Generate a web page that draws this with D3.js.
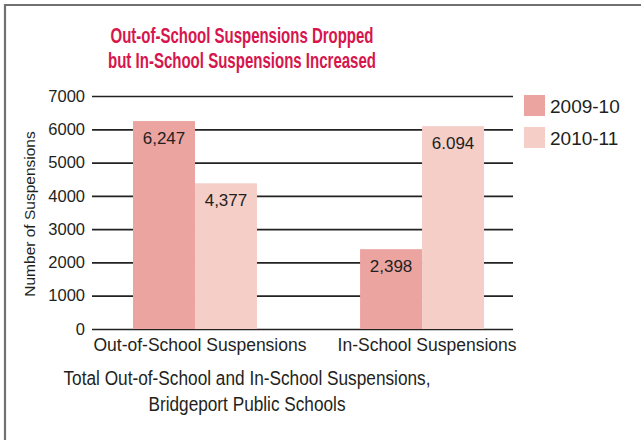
<!DOCTYPE html>
<html>
<head>
<meta charset="utf-8">
<script src="https://cdn.jsdelivr.net/npm/d3@7.9.0/dist/d3.min.js"></script>
<style>
  body { margin: 0; background: #fff; }
  svg text { font-family: "Liberation Sans", Arial, Helvetica, sans-serif; }
</style>
</head>
<body>
<svg id="chart" width="641" height="440"></svg>
<script>
const categories = ['Out-of-School Suspensions', 'In-School Suspensions'];
const years = ['2009-10', '2010-11'];
const values2009 = [6247, 2398];
const values2010 = [4377, 6094];
const valueLabels2009 = ['6,247', '2,398'];
const valueLabels2010 = ['4,377', '6.094'];
const yTicks = [0, 1000, 2000, 3000, 4000, 5000, 6000, 7000];

const colors = d3.scaleOrdinal().domain(years).range(['#eca4a1', '#f6cec8']);

const svg = d3.select('#chart');

// frame (top + left only)
svg.append('line').attr('x1', 5).attr('x2', 641).attr('y1', 5).attr('y2', 5)
  .attr('stroke', '#717171').attr('stroke-width', 2.2);
svg.append('line').attr('x1', 5).attr('x2', 5).attr('y1', 4).attr('y2', 440)
  .attr('stroke', '#717171').attr('stroke-width', 2.2);

// title
const titleLines = ['Out-of-School Suspensions Dropped', 'but In-School Suspensions Increased'];
const titleWidths = [263, 268];
titleLines.forEach((t, i) => {
  svg.append('text')
    .attr('x', 242).attr('y', 43 + i * 25)
    .attr('text-anchor', 'middle')
    .attr('font-size', 21.5).attr('font-weight', 'bold')
    .attr('fill', '#d6164d')
    .attr('textLength', titleWidths[i]).attr('lengthAdjust', 'spacingAndGlyphs')
    .text(t);
});

const y = d3.scaleLinear().domain([0, 7000]).range([329, 96]);
const x0 = d3.scaleBand().domain(categories).range([92, 513])
  .paddingInner(0.454).paddingOuter(0.154).align(0.586);
const x1 = d3.scaleBand().domain(years).range([0, x0.bandwidth()]);

// grid lines
const yAxis = d3.axisLeft(y).tickValues(yTicks).tickSize(-(513 - 92)).tickFormat(d3.format('d'));
const ga = svg.append('g').attr('transform', 'translate(92,0)').call(yAxis);
ga.select('.domain').remove();
ga.selectAll('.tick line').attr('stroke', '#222').attr('stroke-width', 1.7);
ga.selectAll('.tick text').attr('x', -7).attr('font-size', 16.5).attr('fill', '#231f20')
  .attr('font-family', '"Liberation Sans", Arial, sans-serif');

// y title
svg.append('text')
  .attr('transform', 'translate(35,214) rotate(-90)')
  .attr('text-anchor', 'middle')
  .attr('font-size', 15.5).attr('fill', '#231f20')
  .text('Number of Suspensions');

// bars
const rows = categories.map((c, i) => ({
  cat: c,
  bars: [
    { year: years[0], value: values2009[i], label: valueLabels2009[i] },
    { year: years[1], value: values2010[i], label: valueLabels2010[i] }
  ]
}));

const groups = svg.selectAll('g.grp').data(rows).join('g')
  .attr('class', 'grp')
  .attr('transform', d => `translate(${x0(d.cat)},0)`);

groups.selectAll('rect').data(d => d.bars).join('rect')
  .attr('x', d => x1(d.year))
  .attr('y', d => y(d.value))
  .attr('width', x1.bandwidth())
  .attr('height', d => y(0) - y(d.value))
  .attr('fill', d => colors(d.year));

groups.selectAll('text.val').data(d => d.bars).join('text')
  .attr('class', 'val')
  .attr('x', d => x1(d.year) + x1.bandwidth() / 2)
  .attr('y', d => y(d.value) + 23)
  .attr('text-anchor', 'middle')
  .attr('font-size', 17).attr('fill', '#231f20')
  .text(d => d.label);

// category labels
svg.selectAll('text.cat').data(categories).join('text')
  .attr('class', 'cat')
  .attr('x', d => x0(d) + x0.bandwidth() / 2 + 5)
  .attr('y', 351)
  .attr('text-anchor', 'middle')
  .attr('font-size', 17.5).attr('fill', '#231f20')
  .text(d => d);

// legend
const legend = svg.selectAll('g.leg').data(years).join('g')
  .attr('class', 'leg')
  .attr('transform', (d, i) => `translate(524,${95 + i * 32})`);
legend.append('rect').attr('width', 21).attr('height', 21).attr('fill', d => colors(d));
legend.append('text').attr('x', 26).attr('y', 18)
  .attr('font-size', 19).attr('fill', '#231f20')
  .text(d => d);

// bottom caption
const caption = ['Total Out-of-School and In-School Suspensions,', 'Bridgeport Public Schools'];
const capWidths = [367, 197];
caption.forEach((t, i) => {
  svg.append('text')
    .attr('x', 247).attr('y', 385 + i * 26)
    .attr('text-anchor', 'middle')
    .attr('font-size', 19.5).attr('fill', '#231f20')
    .attr('textLength', capWidths[i]).attr('lengthAdjust', 'spacingAndGlyphs')
    .text(t);
});
</script>
</body>
</html>
